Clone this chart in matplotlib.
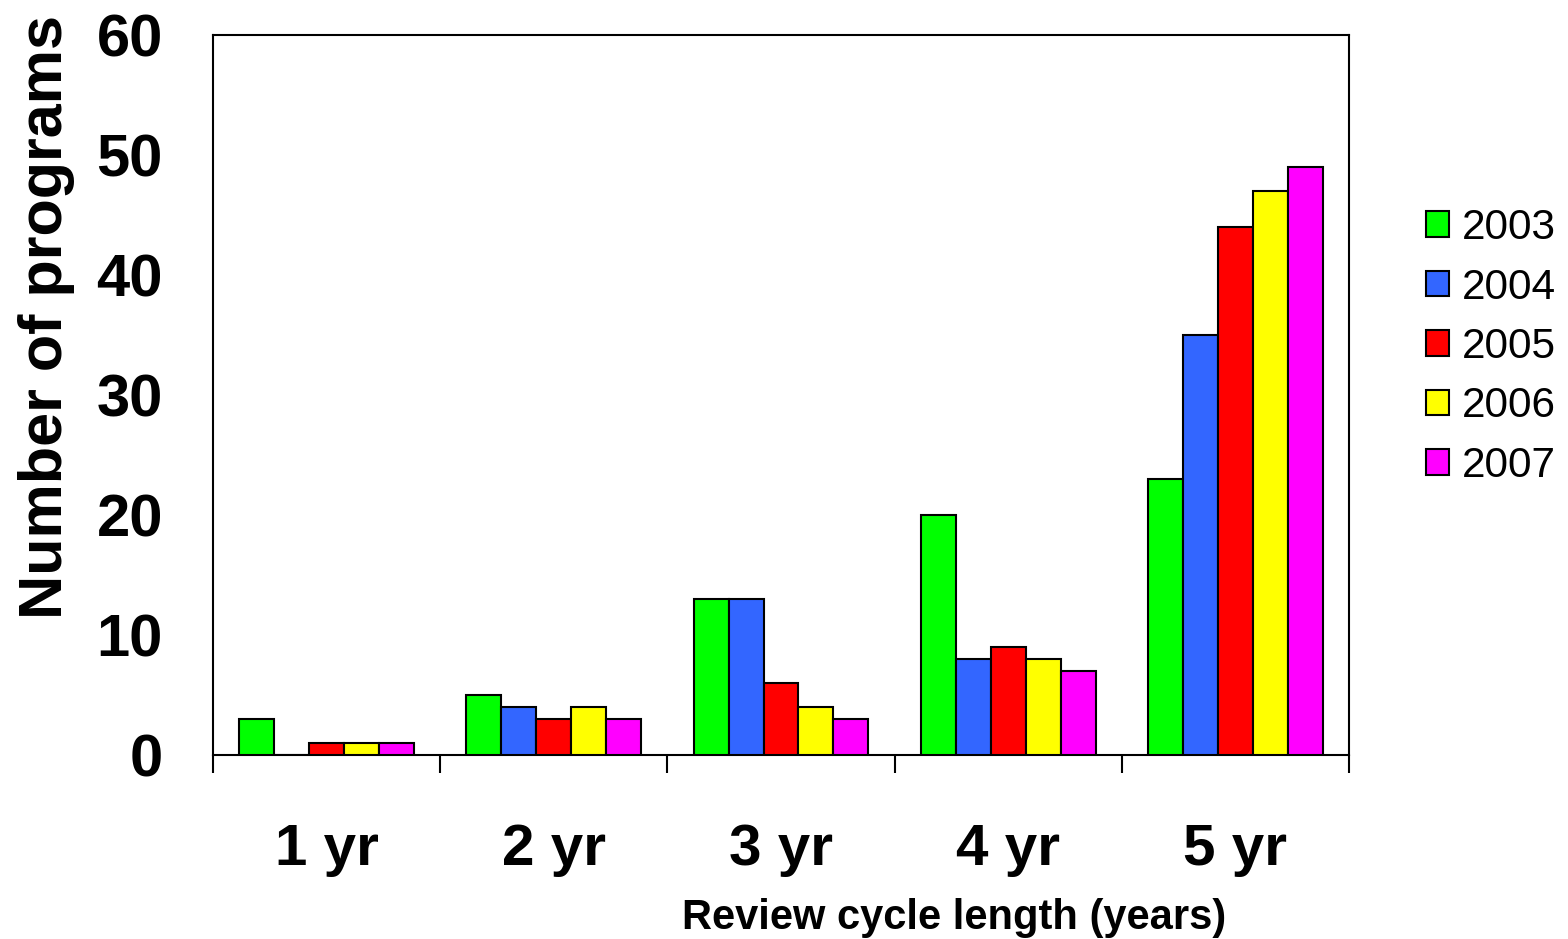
import matplotlib
matplotlib.use('Agg')
import matplotlib.pyplot as plt
import numpy as np

plt.rcParams['font.family'] = ['Liberation Sans', 'DejaVu Sans']

categories = ['1 yr', '2 yr', '3 yr', '4 yr', '5 yr']
years = ['2003', '2004', '2005', '2006', '2007']
counts = {
    '2003': [3, 5, 13, 20, 23],
    '2004': [0, 4, 13, 8, 35],
    '2005': [1, 3, 6, 9, 44],
    '2006': [1, 4, 4, 8, 47],
    '2007': [1, 3, 3, 7, 49],
}
colors = ['#00ff00', '#3366ff', '#ff0000', '#ffff00', '#ff00ff']
yticks = [0, 10, 20, 30, 40, 50, 60]

fig = plt.figure(figsize=(15.68, 9.39), dpi=100)
ax = fig.add_axes([213 / 1568, 1 - 755 / 939, (1349 - 213) / 1568, (755 - 35) / 939])

x = np.arange(len(categories))
w = 0.154
for i, yr in enumerate(years):
    ax.bar(x + (i - 2) * w, counts[yr], width=w, color=colors[i],
           edgecolor='black', linewidth=1.5, label=yr, zorder=3)

ax.set_xlim(-0.5, len(categories) - 0.5)
ax.set_ylim(0, 60)

# category boundaries get the tick marks, centres get the labels
ax.set_xticks(np.arange(len(categories) + 1) - 0.5)
ax.set_xticklabels([])
ax.set_xticks(x, minor=True)
ax.set_xticklabels(categories, minor=True, fontsize=42, fontweight='bold')
ax.tick_params(axis='x', which='major', length=13, width=1.5, direction='out')
ax.tick_params(axis='x', which='minor', length=0, pad=49)

ax.set_yticks(yticks)
ax.set_yticklabels([str(v) for v in yticks], fontsize=43, fontweight='bold')
ax.tick_params(axis='y', length=0, pad=36)

for sp in ax.spines.values():
    sp.set_linewidth(1.5)

ax.set_ylabel('Number of programs', fontsize=44, fontweight='bold', va='baseline')
ax.yaxis.set_label_coords(-0.133, 0.609)
ax.set_xlabel('Review cycle length (years)', fontsize=30, fontweight='bold', va='baseline')
ax.xaxis.set_label_coords(0.6527, -0.2417)

fig.legend(loc='center left', bbox_to_anchor=(1426 / 1568, 1 - 347 / 939),
           frameon=False, fontsize=30.5, handlelength=0.55, handleheight=0.55,
           handletextpad=0.3, labelspacing=0.46, borderpad=0, borderaxespad=0)

fig.savefig('out.png', dpi=100)
